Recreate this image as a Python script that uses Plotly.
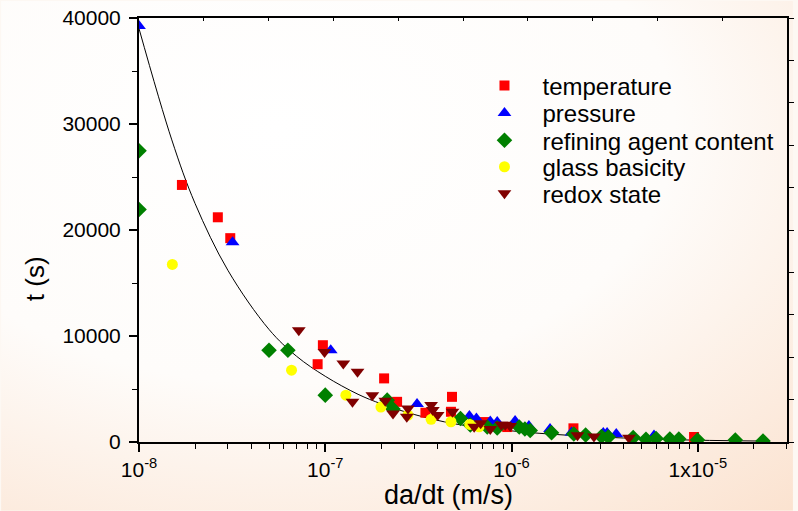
import base64
import plotly.graph_objects as go

# ---------------- data ----------------
temp_x = [1.70e-8, 2.65e-8, 3.09e-8, 9.10e-8, 9.71e-8, 2.07e-7, 2.43e-7, 3.45e-7, 4.79e-7, 4.73e-7,
          7.14e-7, 9.48e-7, 2.15e-6, 9.55e-6]
temp_t = [24250, 21200, 19230, 7340, 9130, 6000, 3790, 2760, 4260, 2850,
          1880, 1410, 1290, 470]

press_x = [1.0e-8, 3.18e-8, 1.07e-7, 3.11e-7, 5.94e-7, 6.48e-7, 7.69e-7, 8.38e-7, 1.045e-6, 1.24e-6,
           1.61e-6, 2.10e-6, 3.11e-6, 3.26e-6, 3.65e-6, 5.82e-6]
press_t = [39250, 18850, 8660, 3580, 2450, 2210, 1930, 1880, 1980, 1510,
           1220, 890, 850, 850, 750, 610]

refin_x = [1.0e-8, 1.0e-8, 4.99e-8, 6.30e-8, 1.0e-7, 2.15e-7, 2.31e-7, 5.32e-7, 6.01e-7, 7.41e-7,
           8.38e-7, 1.10e-6, 1.18e-6, 1.26e-6, 1.64e-6, 2.16e-6, 2.50e-6, 3.04e-6, 3.31e-6, 4.50e-6,
           5.27e-6, 5.97e-6, 7.08e-6, 7.91e-6, 9.96e-6, 1.59e-5, 2.24e-5]
refin_t = [27480, 21930, 8660, 8660, 4420, 3950, 3110, 2210, 1600, 1410,
           1320, 1410, 1220, 1080, 875, 750, 660, 520, 470, 420,
           250, 330, 280, 280, 190, 190, 94]

glass_x = [1.51e-8, 6.59e-8, 1.29e-7, 1.99e-7, 2.78e-7, 3.70e-7, 4.73e-7, 5.97e-7, 6.69e-7]
glass_t = [16750, 6780, 4420, 3300, 2540, 2140, 1910, 1660, 1440]

redox_x = [7.21e-8, 9.91e-8, 1.25e-7, 1.49e-7, 1.40e-7, 1.79e-7, 2.10e-7, 2.31e-7, 2.78e-7, 2.74e-7,
           3.70e-7, 3.78e-7, 4.01e-7, 4.82e-7, 6.30e-7, 6.83e-7, 7.69e-7, 8.81e-7, 9.25e-7, 9.84e-7,
           2.26e-6, 2.77e-6, 4.27e-6]
redox_t = [10540, 8500, 7410, 6620, 3790, 4420, 3890, 2700, 3170, 2380,
           3480, 3010, 2540, 2850, 1440, 1760, 1220, 1630, 1630, 1510,
           630, 520, 400]

# fitted curve, points
fit_x = [1e-8, 1.5e-8, 2e-8, 3e-8, 5e-8, 7e-8, 1e-7, 1.5e-7, 2e-7, 3e-7, 5e-7,
         1e-6, 2e-6, 5e-6, 1e-5, 2.2e-5]
fit_t = [39000, 28500, 22500, 16200, 10600, 8100, 6200, 4500, 3600, 2600, 1700,
         1050, 640, 310, 170, 90]

x_tickvals = [1e-8, 1e-7, 1e-6, 1e-5]
x_ticktext = ["10<sup>-8</sup>", "10<sup>-7</sup>", "10<sup>-6</sup>", "1x10<sup>-5</sup>"]
y_tickvals = [0, 10000, 20000, 30000, 40000]
y_ticktext = ["0", "10000", "20000", "30000", "40000"]
x_minor = [m * 10.0 ** e for e in (-8, -7, -6, -5) for m in range(2, 10)]

FONT = "Liberation Sans, Arial, sans-serif"

L, R, T, B = 139, 6, 17, 69
PW, PH = 798 - L - R, 511 - T - B

series = [
    ("temperature", temp_x, temp_t, "square", 10, "#ff0000"),
    ("pressure", press_x, press_t, "triangle-up", 12, "#0000ff"),
    ("refining agent content", refin_x, refin_t, "diamond", 12, "#008000"),
    ("glass basicity", glass_x, glass_t, "circle", 11, "#ffff00"),
    ("redox state", redox_x, redox_t, "triangle-down", 12, "#800000"),
]
legend_rows_px = [85, 112.5, 140, 166.5, 193]

fig = go.Figure()
fig.add_trace(go.Scatter(x=fit_x, y=fit_t, mode="lines", line=dict(color="black", width=1, shape="spline"),
                         showlegend=False, hoverinfo="skip"))

legends = {}
for i, (name, xs, ys, sym, sz, col) in enumerate(series):
    key = "legend" if i == 0 else f"legend{i + 1}"
    fig.add_trace(go.Scatter(x=xs, y=ys, mode="markers", name=name, legend=key,
                             marker=dict(symbol=sym, size=sz, color=col)))
    legends[key] = dict(x=(469 - L) / PW, y=(442 - legend_rows_px[i]) / PH,
                        xanchor="left", yanchor="middle", bgcolor="rgba(0,0,0,0)",
                        borderwidth=0, font=dict(size=24), itemwidth=66)

# empty trace to activate the mirror (top/right) axes
fig.add_trace(go.Scatter(x=[], y=[], xaxis="x2", yaxis="y2", showlegend=False))

svg = ("<svg xmlns='http://www.w3.org/2000/svg' width='798' height='511'><defs>"
       "<radialGradient id='g' cx='0.35' cy='0.25' r='1.0'>"
       "<stop offset='0' stop-color='#ffffff'/><stop offset='0.5' stop-color='#fefcfa'/>"
       "<stop offset='1' stop-color='#fbe2cf'/></radialGradient></defs>"
       "<rect width='798' height='511' fill='url(#g)'/></svg>")
src = "data:image/svg+xml;base64," + base64.b64encode(svg.encode()).decode()

fig.update_layout(
    width=798, height=511,
    margin=dict(l=L, r=R, t=T, b=B),
    paper_bgcolor="#fdf8f3",
    plot_bgcolor="rgba(0,0,0,0)",
    font=dict(family=FONT, color="black"),
    images=[dict(source=src, xref="paper", yref="paper", x=-L / PW, y=(PH + T) / PH,
                 sizex=798 / PW, sizey=511 / PH, sizing="stretch", layer="below")],
    xaxis=dict(type="log", range=[-8, -4.521], showline=True, linecolor="black", linewidth=2,
               ticks="outside", ticklen=8, tickwidth=1.5, tickcolor="black",
               tickvals=x_tickvals, ticktext=x_ticktext, tickfont=dict(size=21),
               minor=dict(tickmode="array", tickvals=x_minor, ticks="outside", ticklen=5,
                          tickwidth=1.2, tickcolor="black", showgrid=False),
               showgrid=False, zeroline=False),
    yaxis=dict(range=[0, 40000], showline=True, linecolor="black", linewidth=2,
               ticks="outside", ticklen=8, tickwidth=1.5, tickcolor="black",
               tickvals=y_tickvals, ticktext=y_ticktext, tickfont=dict(size=21),
               ticklabelstandoff=4,
               minor=dict(dtick=5000, ticks="outside", ticklen=5, tickwidth=1.2,
                          tickcolor="black", showgrid=False),
               showgrid=False, zeroline=False),
    xaxis2=dict(overlaying="x", side="top", anchor="y", range=[0, 10], dtick=1,
                showline=True, linecolor="black", linewidth=2, ticks="inside", ticklen=3,
                tickcolor="black", showticklabels=False, showgrid=False, zeroline=False),
    yaxis2=dict(overlaying="y", side="right", anchor="x", range=[0, 10], dtick=1,
                showline=True, linecolor="black", linewidth=2, ticks="outside", ticklen=5,
                tickcolor="black", showticklabels=False, showgrid=False, zeroline=False),
    annotations=[
        dict(text="t (s)", xref="paper", yref="paper", x=(35 - L) / PW, y=(442 - 278) / PH,
             showarrow=False, textangle=-90, font=dict(size=26), xanchor="center", yanchor="middle"),
        dict(text="da/dt (m/s)", xref="paper", yref="paper", x=(451 - L) / PW, y=(442 - 495) / PH,
             showarrow=False, font=dict(size=27), xanchor="center", yanchor="middle"),
    ],
    **legends,
)

fig.write_html("out.html")
